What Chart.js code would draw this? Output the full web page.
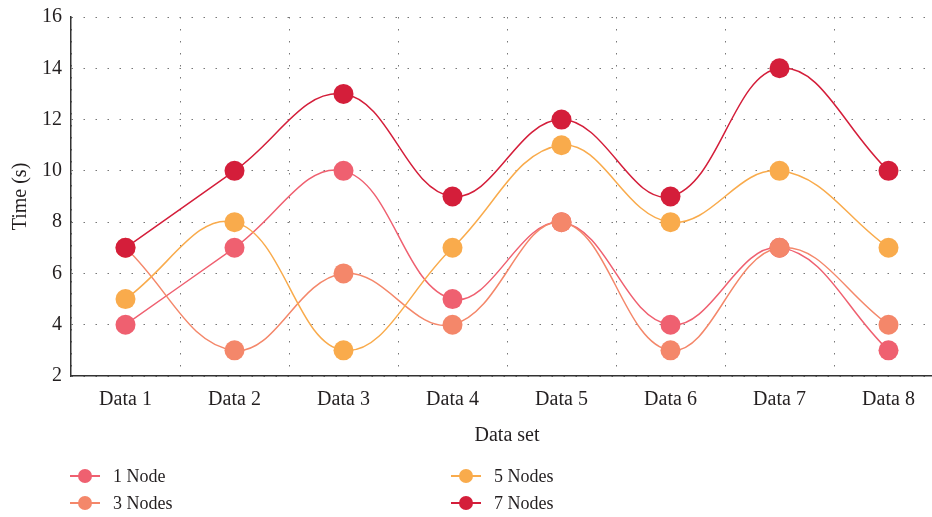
<!DOCTYPE html>
<html>
<head>
<meta charset="utf-8">
<script src="https://cdn.jsdelivr.net/npm/chart.js@4.4.1/dist/chart.umd.min.js"></script>
<style>
  body { margin: 0; background: #fff; overflow: hidden; }
  #wrap { position: relative; width: 953px; height: 517px; }
  #grafik { position: absolute; left: 0; top: -4px; }
  #legend { position: absolute; left: 0; top: 0; width: 932px; height: 517px; pointer-events: none;
            font-family: "Liberation Serif", "DejaVu Serif", serif; font-size: 18px; color: #231f20; }
  .item { position: absolute; height: 20px; }
  .item .ln { position: absolute; left: 0; top: 9px; width: 30px; height: 1.5px; }
  .item .dot { position: absolute; left: 8px; top: 3px; width: 14px; height: 14px; border-radius: 50%; }
  .item .txt { position: absolute; left: 43px; top: -1px; white-space: nowrap; line-height: 22px; }
</style>
</head>
<body>
<div id="wrap">
  <canvas id="grafik" width="953" height="517"></canvas>
  <div id="legend"></div>
</div>
<script>
const etiketler = ["Data 1", "Data 2", "Data 3", "Data 4", "Data 5", "Data 6", "Data 7", "Data 8"];
const node1 = [4, 7, 10, 5, 8, 4, 7, 3];
const node3 = [7, 3, 6, 4, 8, 3, 7, 4];
const node5 = [5, 8, 3, 7, 11, 8, 10, 7];
const node7 = [7, 10, 13, 9, 12, 9, 14, 10];
const seriAdlari = ["1 Node", "3 Nodes", "5 Nodes", "7 Nodes"];
const renkler = ["#ef6070", "#f4876a", "#f9ab4c", "#d41e3a"];

const font = "'Liberation Serif', 'DejaVu Serif', serif";
const yazi = "#231f20";

// later series drawn on top
const seriler = [node1, node3, node5, node7].map((d, i) => ({
  label: seriAdlari[i],
  data: d,
  borderColor: renkler[i],
  backgroundColor: renkler[i],
  pointBackgroundColor: renkler[i],
  pointBorderWidth: 0,
  pointRadius: 10,
  pointHoverRadius: 10,
  borderWidth: 1.5,
  tension: 0.4,
  fill: false,
  order: 4 - i
}));

const izgara = {
  display: true,
  offset: true,
  color: "#777",
  lineWidth: 1,
  drawTicks: false
};

new Chart(document.getElementById("grafik"), {
  type: "line",
  data: { labels: etiketler, datasets: seriler },
  options: {
    responsive: false,
    animation: false,
    devicePixelRatio: 1,
    layout: { padding: { left: 9, right: 0, top: 0, bottom: 65 } },
    plugins: { legend: { display: false }, tooltip: { enabled: false } },
    scales: {
      x: {
        offset: true,
        grid: izgara,
        border: { display: true, color: "#333", width: 1.5, dash: [1.5, 10.5] },
        ticks: { color: yazi, font: { family: font, size: 20 }, padding: 12 },
        title: { display: true, text: "Data set", color: yazi, font: { family: font, size: 20 }, padding: { top: 0, bottom: 0 } }
      },
      y: {
        min: 2,
        max: 16,
        grid: { display: true, color: "#777", lineWidth: 1, drawTicks: false },
        border: { display: true, color: "#333", width: 1.5, dash: [1.5, 10.5] },
        ticks: { stepSize: 2, color: yazi, font: { family: font, size: 20 }, padding: 9 },
        title: { display: true, text: "Time (s)", color: yazi, font: { family: font, size: 20 }, padding: { top: 0, bottom: 0 } }
      }
    }
  }
});

// legend in two columns under the chart
const konumlar = [[70, 466], [70, 493], [451, 466], [451, 493]];
const legend = document.getElementById("legend");
seriAdlari.forEach((ad, i) => {
  const d = document.createElement("div");
  d.className = "item";
  d.style.left = konumlar[i][0] + "px";
  d.style.top = konumlar[i][1] + "px";
  d.innerHTML = `<div class="ln" style="background:${renkler[i]}"></div>` +
    `<div class="dot" style="background:${renkler[i]}"></div>` +
    `<div class="txt">${ad}</div>`;
  legend.appendChild(d);
});
</script>
</body>
</html>
